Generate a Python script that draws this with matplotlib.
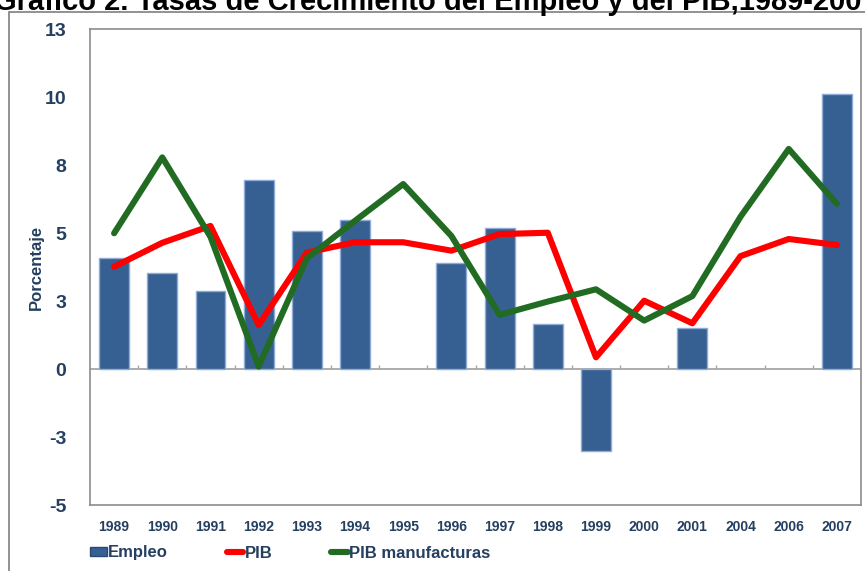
import matplotlib
matplotlib.use("Agg")
import matplotlib.pyplot as plt
import numpy as np
from matplotlib.lines import Line2D
from matplotlib.patches import Patch, Rectangle

years = ["1989", "1990", "1991", "1992", "1993", "1994", "1995", "1996",
         "1997", "1998", "1999", "2000", "2001", "2004", "2006", "2007"]
empleo = [4.07, 3.52, 2.88, 6.95, 5.08, 5.49, np.nan, 3.89,
          5.17, 1.65, -3.0, np.nan, 1.52, np.nan, np.nan, 10.1]
pib = [3.76, 4.64, 5.26, 1.62, 4.28, 4.66, 4.66, 4.35,
       4.96, 5.01, 0.43, 2.51, 1.68, 4.15, 4.78, 4.56]
pib_manuf = [4.99, 7.78, 4.86, 0.09, 4.07, 5.45, 6.80, 4.89,
             1.99, 2.48, 2.93, 1.78, 2.68, 5.60, 8.09, 6.07]
y_ticks = [-5, -2.5, 0, 2.5, 5, 7.5, 10, 12.5]
y_tick_labels = ["-5", "-3", "0", "3", "5", "8", "10", "13"]

TEXT = "#243f60"
BAR = "#376092"
RED = "#ff0000"
GREEN = "#226b22"
GRID = "#8c8c8c"

plt.rcParams["font.family"] = ["Liberation Sans", "DejaVu Sans"]

W, H = 865, 571
fig = plt.figure(figsize=(W / 100, H / 100), dpi=100)

# outer chart border (cut off at right/bottom in the original)
fig.patches.append(Rectangle((9 / W, -0.05), 1.1, 1 - 12 / H + 0.05,
                             transform=fig.transFigure, fill=False,
                             edgecolor="#7f7f7f", lw=1.2))

# title is cropped at the top in the original image
fig.text(436 / W, 1 - 10 / H,
         "Gráfico 2. Tasas de Crecimiento del Empleo y del PIB,1989-2007",
         ha="center", va="baseline", fontsize=21, fontweight="bold", color="black")

ax = fig.add_axes([90 / W, 66 / H, 771 / W, 476 / H])
x = np.arange(len(years))

ax.bar(x, empleo, width=0.62, color=BAR, edgecolor="#8eaad6", linewidth=1, zorder=2)
ax.plot(x, pib, color=RED, lw=4.4, solid_capstyle="round", zorder=3)
ax.plot(x, pib_manuf, color=GREEN, lw=4.4, solid_capstyle="round", zorder=4)

# zero line with small marks between categories
ax.axhline(0, color="#a6a6a6", lw=1.3, zorder=1)
ax.vlines(x[:-1] + 0.5, 0, 0.15, color="#a6a6a6", lw=1, zorder=1)

ax.set_xlim(-0.5, len(years) - 0.5)
ax.set_ylim(-5, 12.5)
ax.set_yticks(y_ticks)
ax.set_yticklabels(y_tick_labels)
ax.set_xticks(x)
ax.set_xticklabels(years)
ax.tick_params(axis="y", length=0, pad=17, labelsize=14, labelcolor=TEXT)
ax.tick_params(axis="x", length=0, pad=11, labelsize=10, labelcolor=TEXT)
for lab in ax.get_xticklabels() + ax.get_yticklabels():
    lab.set_fontweight("bold")
for s in ax.spines.values():
    s.set_color(GRID)
    s.set_linewidth(1.2)

ax.set_ylabel("Porcentaje", fontsize=12, fontweight="bold", color=TEXT)
ax.yaxis.set_label_coords(-(90 - 44) / 771, 0.5)

handles = [Patch(facecolor=BAR, edgecolor="#2a4a74"),
           Line2D([], [], color=RED, lw=4.4, solid_capstyle="round"),
           Line2D([], [], color=GREEN, lw=4.4, solid_capstyle="round")]
leg = fig.legend(handles, ["Empleo", "PIB", "PIB manufacturas"], ncol=3,
                 loc="center left", bbox_to_anchor=(90 / W, 1 - 553 / H),
                 frameon=False, borderpad=0, borderaxespad=0,
                 handlelength=1.0, handleheight=0.5, handletextpad=0.1,
                 columnspacing=3.5, prop={"size": 12, "weight": "bold"})
for t in leg.get_texts():
    t.set_color(TEXT)

fig.savefig("out.png", dpi=100)
